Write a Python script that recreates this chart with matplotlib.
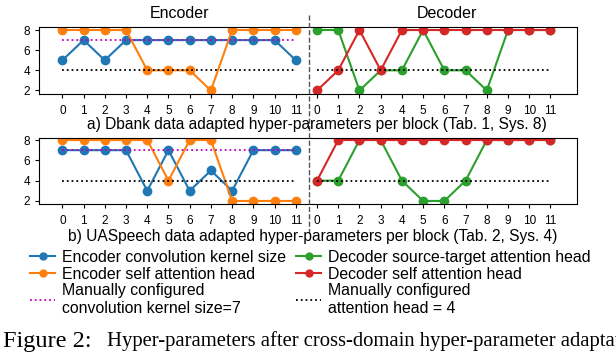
import matplotlib.pyplot as plt
from matplotlib.lines import Line2D

plt.rcParams["font.family"] = ["Liberation Sans", "DejaVu Sans"]

# ---------------------------------------------------------------------------
# Data (block index 0..11 for encoder and decoder)
# ---------------------------------------------------------------------------
blocks = list(range(12))
tick_labels = [str(b) for b in blocks] * 2

# a) Dbank
dbank_enc_conv = [5, 7, 5, 7, 7, 7, 7, 7, 7, 7, 7, 5]
dbank_enc_head = [8, 8, 8, 8, 4, 4, 4, 2, 8, 8, 8, 8]
dbank_dec_src = [8, 8, 2, 4, 4, 8, 4, 4, 2, 8, 8, 8]
dbank_dec_self = [2, 4, 8, 4, 8, 8, 8, 8, 8, 8, 8, 8]

# b) UASpeech
uasp_enc_conv = [7, 7, 7, 7, 3, 7, 3, 5, 3, 7, 7, 7]
uasp_enc_head = [8, 8, 8, 8, 8, 4, 8, 8, 2, 2, 2, 2]
uasp_dec_src = [4, 4, 8, 8, 4, 2, 2, 4, 8, 8, 8, 8]
uasp_dec_self = [4, 8, 8, 8, 8, 8, 8, 8, 8, 8, 8, 8]

manual_kernel = 7
manual_head = 4

W, H = 616, 352
fig = plt.figure(figsize=(W / 100, H / 100), dpi=100)


def px_axes(left, top, right, bottom):
    return fig.add_axes([left / W, 1 - bottom / H, (right - left) / W, (bottom - top) / H])


def draw_row(ax, enc_conv, enc_head, dec_src, dec_self, ylim):
    enc_x = blocks
    dec_x = [b + 12 for b in blocks]
    kw = dict(marker="o", markersize=6, linewidth=1.5)
    ax.plot(enc_x, enc_conv, color="#1f77b4", **kw)
    ax.plot(enc_x, enc_head, color="#ff7f0e", **kw)
    ax.plot(dec_x, dec_src, color="#2ca02c", **kw)
    ax.plot(dec_x, dec_self, color="#d62728", **kw)
    ax.plot([enc_x[0], enc_x[-1]], [manual_kernel] * 2, "m:", linewidth=1.3)
    ax.plot([enc_x[0], enc_x[-1]], [manual_head] * 2, "k:", linewidth=1.3)
    ax.plot([dec_x[0], dec_x[-1]], [manual_head] * 2, "k:", linewidth=1.3)
    ax.set_xlim(-1.1, 24.25)
    ax.set_ylim(*ylim)
    ax.set_yticks([2, 4, 6, 8])
    ax.set_xticks(enc_x + dec_x)
    ax.set_xticklabels(tick_labels)
    ax.tick_params(labelsize=8.5, length=3)
    ax.tick_params(axis="x", pad=5)


ax1 = px_axes(39, 27, 577, 94)
draw_row(ax1, dbank_enc_conv, dbank_enc_head, dbank_dec_src, dbank_dec_self, (1.65, 8.3))

ax2 = px_axes(39, 138, 577, 204)
draw_row(ax2, uasp_enc_conv, uasp_enc_head, uasp_dec_src, uasp_dec_self, (1.7, 8.2))

# encoder / decoder separator across both rows
fig.add_artist(Line2D([309 / W, 309 / W], [1 - 15 / H, 1 - 232 / H],
                      transform=fig.transFigure, color="#555555",
                      linestyle="--", linewidth=1.0))

fig.text(179 / W, 1 - 14 / H, "Encoder", ha="center", va="center", fontsize=11.5)
fig.text(447 / W, 1 - 14 / H, "Decoder", ha="center", va="center", fontsize=11.5)

fig.text(317 / W, 1 - 124 / H,
         "a) Dbank data adapted hyper-parameters per block (Tab. 1, Sys. 8)",
         ha="center", va="center", fontsize=11.2)
fig.text(313 / W, 1 - 237 / H,
         "b) UASpeech data adapted hyper-parameters per block (Tab. 2, Sys. 4)",
         ha="center", va="center", fontsize=11.2)

# legend
handles = [
    Line2D([], [], color="#1f77b4", marker="o", markersize=5, linewidth=1.5),
    Line2D([], [], color="#ff7f0e", marker="o", markersize=5, linewidth=1.5),
    Line2D([], [], color="m", linestyle=":", linewidth=1.3),
    Line2D([], [], color="#2ca02c", marker="o", markersize=5, linewidth=1.5),
    Line2D([], [], color="#d62728", marker="o", markersize=5, linewidth=1.5),
    Line2D([], [], color="k", linestyle=":", linewidth=1.3),
]
labels = [
    "Encoder convolution kernel size",
    "Encoder self attention head",
    "Manually configured\nconvolution kernel size=7",
    "Decoder source-target attention head",
    "Decoder self attention head",
    "Manually configured\nattention head = 4",
]
fig.legend(handles, labels, ncol=2, frameon=False, fontsize=11.4,
           loc="upper left", bbox_to_anchor=(30 / W, 1 - 250 / H),
           handlelength=1.6, handletextpad=0.45, columnspacing=0.6,
           labelspacing=0.1, borderaxespad=0, borderpad=0)

fig.text(3 / W, 1 - 341 / H, "Figure 2:", ha="left", va="center", fontsize=17.5,
         family=["Liberation Serif", "DejaVu Serif"])
fig.text(107 / W, 1 - 341 / H,
         "Hyper-parameters after cross-domain hyper-parameter adaptation",
         ha="left", va="center", fontsize=14.9, family=["Liberation Serif", "DejaVu Serif"])

fig.savefig("out.png", dpi=100)
